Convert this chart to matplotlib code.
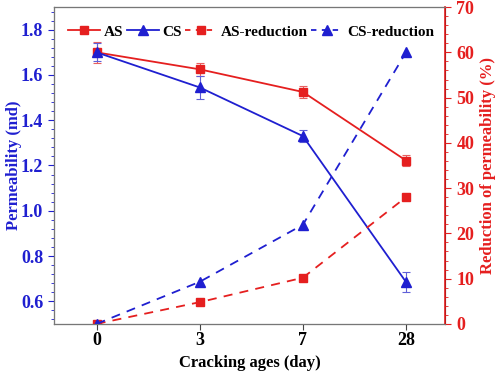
import matplotlib
matplotlib.use("Agg")
import matplotlib.pyplot as plt
from matplotlib.lines import Line2D
from matplotlib.ticker import MultipleLocator, AutoMinorLocator

days = ["0", "3", "7", "28"]
as_perm = [1.70, 1.625, 1.525, 1.222]
as_err = [0.045, 0.03, 0.025, 0.025]
cs_perm = [1.70, 1.545, 1.33, 0.685]
cs_err = [0.04, 0.05, 0.025, 0.045]
as_red = [0, 4.8, 10.2, 28.0]
cs_red = [0, 9.3, 21.9, 60.0]

RED = "#e51f1f"
BLUE = "#1f1fd0"
plt.rcParams['font.family'] = ['Liberation Serif']
plt.rcParams['font.weight'] = 'bold'

fig = plt.figure(figsize=(4.98, 3.74), dpi=100)
ax = fig.add_axes([0.109, 0.134, 0.785, 0.847])
ax2 = ax.twinx()
x = list(range(len(days)))

ax.errorbar(x, as_perm, yerr=as_err, color=RED, marker='s', ms=5.5, lw=1.3,
            ecolor="#e86060", elinewidth=0.8, capsize=3, capthick=0.8, zorder=3)
ax.errorbar(x, cs_perm, yerr=cs_err, color=BLUE, marker='^', ms=6.5, lw=1.3,
            ecolor="#6060d8", elinewidth=0.8, capsize=3, capthick=0.8, zorder=3)
ax2.plot(x, as_red, color=RED, ls=(0, (5, 4)), marker='s', ms=5.5, lw=1.3)
ax2.plot(x, cs_red, color=BLUE, ls=(0, (5, 4)), marker='^', ms=6.5, lw=1.3)

ax.set_xlim(-0.41, 3.38)
ax.set_ylim(0.5, 1.9)
ax2.set_ylim(0, 70)
ax.set_xticks(x)
ax.set_xticklabels(days)
ax.yaxis.set_major_locator(MultipleLocator(0.2))
ax.yaxis.set_minor_locator(AutoMinorLocator(5))
ax2.yaxis.set_major_locator(MultipleLocator(10))
ax2.yaxis.set_minor_locator(AutoMinorLocator(5))

fs = 13
ax.set_xlabel("Cracking ages (day)", fontsize=12, fontweight='bold', labelpad=4)
ax.set_ylabel("Permeability (md)", fontsize=12, fontweight='bold', color=BLUE, labelpad=-1)
ax2.set_ylabel("Reduction of permeability (%)", fontsize=12, fontweight='bold', color=RED, labelpad=4)

ax.tick_params(axis='x', labelsize=fs, length=4, color='#444444', pad=2)
ax.tick_params(axis='y', which='major', labelsize=fs, labelcolor=BLUE, color=BLUE, length=4.5)
ax.tick_params(axis='y', which='minor', color=BLUE, length=2)
ax2.tick_params(axis='y', which='major', labelsize=fs, labelcolor=RED, color=RED, length=4.5)
ax2.tick_params(axis='y', which='minor', color=RED, length=2)

for s in ['top', 'bottom', 'left']:
    ax2.spines[s].set_color('#777777')
ax2.spines['right'].set_color(RED)
ax2.spines['right'].set_linewidth(1.2)

handles = [
    Line2D([], [], color=RED, marker='s', ms=5.5, lw=1.3),
    Line2D([], [], color=BLUE, marker='^', ms=6.5, lw=1.3),
    Line2D([], [], color=RED, marker='s', ms=5.5, lw=1.3, ls=(0, (3, 3))),
    Line2D([], [], color=BLUE, marker='^', ms=6.5, lw=1.3, ls=(0, (3, 3))),
]
ax.legend(handles, ['AS', 'CS', 'AS-reduction', 'CS-reduction'],
          loc='upper left', bbox_to_anchor=(0.012, 0.972), ncol=4, frameon=False,
          fontsize=11, handlelength=2.1, handletextpad=0.25, columnspacing=0.2,
          borderaxespad=0.2)

fig.savefig("out.png", dpi=100)
